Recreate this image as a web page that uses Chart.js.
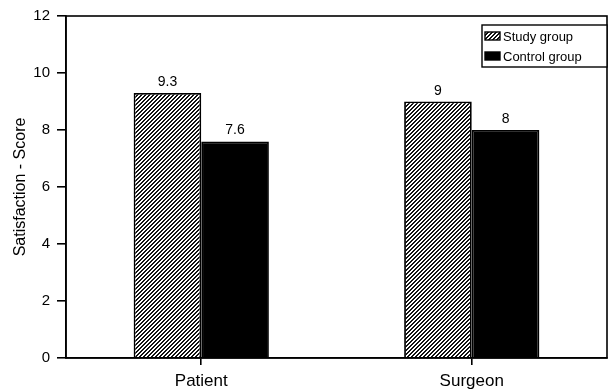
<!DOCTYPE html>
<html>
<head>
<meta charset="utf-8">
<script src="https://cdn.jsdelivr.net/npm/chart.js@4/dist/chart.umd.min.js"></script>
<style>
  html, body { margin: 0; padding: 0; background: #fff; }
  #wrap { width: 609px; height: 390px; position: relative; }
</style>
</head>
<body>
<div id="wrap"><canvas id="c" width="609" height="390"></canvas></div>
<script>
// Satisfaction scores by rater group
const categories = ['Patient', 'Surgeon'];
const seriesNames = ['Study group', 'Control group'];
const studyScores = [9.3, 9];
const controlScores = [7.6, 8];
const yTicks = [0, 2, 4, 6, 8, 10, 12];

const FONT = '"Liberation Sans", Arial, sans-serif';

// Diagonal hatch fill (///) for the study group, built pixel by pixel
function makeHatch() {
  const s = 4;
  const p = document.createElement('canvas');
  p.width = s; p.height = s;
  const g = p.getContext('2d');
  g.fillStyle = '#ffffff';
  g.fillRect(0, 0, s, s);
  g.fillStyle = '#111';
  for (let x = 0; x < s; x++) {
    for (let y = 0; y < s; y++) {
      const k = (x + y) % s;
      if (k === 0 || k === 3) g.fillRect(x, y, 1, 1);
    }
  }
  return document.getElementById('c').getContext('2d').createPattern(p, 'repeat');
}
const hatch = makeHatch();

// Frame around the plot area
const framePlugin = {
  id: 'frame',
  afterDraw(chart) {
    const { ctx, chartArea: a } = chart;
    ctx.save();
    ctx.strokeStyle = '#000';
    ctx.lineWidth = 1.6;
    ctx.strokeRect(a.left, a.top, a.right - a.left, a.bottom - a.top);
    ctx.restore();
  }
};

// Value labels above each bar
const valueLabels = {
  id: 'valueLabels',
  afterDatasetsDraw(chart) {
    const { ctx } = chart;
    ctx.save();
    ctx.font = '14px ' + FONT;
    ctx.fillStyle = '#000';
    ctx.textAlign = 'center';
    ctx.textBaseline = 'alphabetic';
    chart.data.datasets.forEach((ds, i) => {
      chart.getDatasetMeta(i).data.forEach((bar, j) => {
        ctx.fillText(String(ds.data[j]), bar.x, bar.y - 7);
      });
    });
    ctx.restore();
  }
};

// Boxed legend inside the upper right of the plot
const boxLegend = {
  id: 'boxLegend',
  afterDraw(chart) {
    const { ctx, chartArea: a } = chart;
    const w = 125, h = 42;
    const x = a.right - w, y = a.top + 9;
    ctx.save();
    ctx.fillStyle = '#fff';
    ctx.fillRect(x, y, w, h);
    ctx.strokeStyle = '#000';
    ctx.lineWidth = 1.4;
    ctx.strokeRect(x, y, w, h);
    ctx.font = '13px ' + FONT;
    ctx.textBaseline = 'middle';
    ctx.textAlign = 'left';
    chart.data.datasets.forEach((ds, i) => {
      const cy = y + 11 + i * 20;
      ctx.fillStyle = ds.backgroundColor;
      ctx.fillRect(x + 3, cy - 4, 15, 8);
      ctx.strokeStyle = '#000';
      ctx.lineWidth = 1.4;
      ctx.strokeRect(x + 3, cy - 4, 15, 8);
      ctx.fillStyle = '#000';
      ctx.fillText(ds.label, x + 21, cy + 1);
    });
    ctx.restore();
  }
};

new Chart(document.getElementById('c'), {
  type: 'bar',
  data: {
    labels: categories,
    datasets: [
      { label: seriesNames[0], data: studyScores, backgroundColor: hatch,
        borderColor: '#000', borderWidth: 1.8 },
      { label: seriesNames[1], data: controlScores, backgroundColor: '#000',
        borderColor: '#000', borderWidth: 1.8 }
    ]
  },
  options: {
    responsive: false,
    animation: false,
    layout: { padding: { top: 15, right: 2, left: 0, bottom: 0 } },
    datasets: { bar: { categoryPercentage: 0.5, barPercentage: 1.0 } },
    plugins: { legend: { display: false }, tooltip: { enabled: false } },
    scales: {
      x: {
        afterFit(s) { s.height = 32; },
        grid: { display: true, drawOnChartArea: false, offset: false,
                tickLength: 7, color: '#000', lineWidth: 1.6 },
        border: { display: true, color: '#000', width: 1.6 },
        ticks: { color: '#000', font: { family: FONT, size: 17 }, padding: 6 }
      },
      y: {
        min: 0, max: 12,
        afterFit(s) { s.width = 66; },
        afterBuildTicks(s) { s.ticks = yTicks.map(v => ({ value: v })); },
        grid: { display: true, drawOnChartArea: false, tickLength: 9,
                color: '#000', lineWidth: 1.6 },
        border: { display: true, color: '#000', width: 1.6 },
        ticks: { color: '#000', font: { family: FONT, size: 15 }, padding: 7 },
        title: { display: true, text: 'Satisfaction - Score', color: '#000',
                 font: { family: FONT, size: 16 }, padding: { top: 11, bottom: 0 } }
      }
    }
  },
  plugins: [framePlugin, valueLabels, boxLegend]
});
</script>
</body>
</html>
